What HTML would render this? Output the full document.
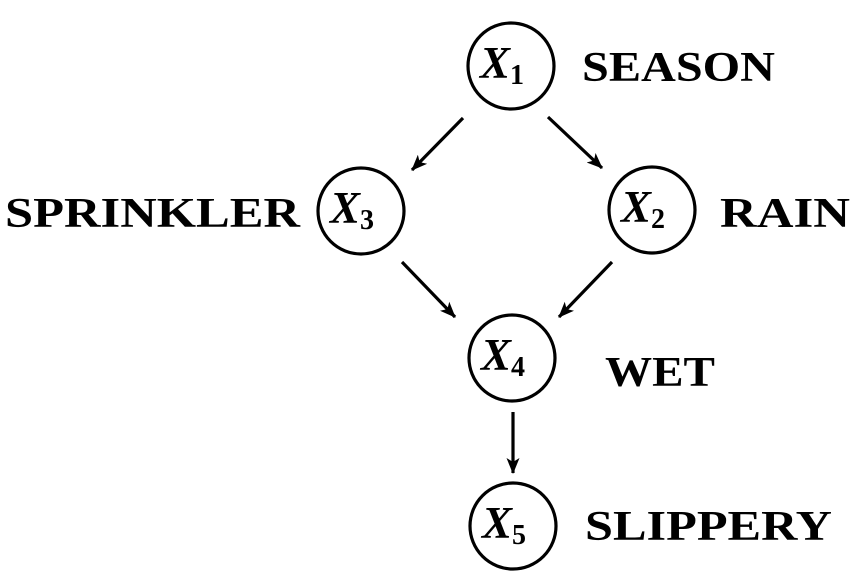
<!DOCTYPE html>
<html><head><style>body{margin:0;background:#fff}</style></head><body>
<svg width="857" height="582" xmlns="http://www.w3.org/2000/svg">
<defs><marker id="a" markerWidth="16" markerHeight="13" refX="15" refY="6.5" orient="auto" markerUnits="userSpaceOnUse"><path d="M0,0 L16,6.5 L0,13 L4,6.5z" fill="#000"/></marker></defs>
<g fill="none" stroke="#000" stroke-width="3.2">
<circle cx="511" cy="66" r="43"/>
<circle cx="361" cy="211" r="43"/>
<circle cx="652" cy="210" r="43"/>
<circle cx="512" cy="358" r="43"/>
<circle cx="513" cy="526" r="43"/>
</g>
<g stroke="#000" stroke-width="3.2" marker-end="url(#a)">
<line x1="463" y1="118" x2="412" y2="170"/>
<line x1="548" y1="117" x2="602" y2="168"/>
<line x1="402" y1="262" x2="455" y2="317"/>
<line x1="612" y1="262" x2="559" y2="317"/>
<line x1="513" y1="412" x2="513" y2="473"/>
</g>
<g font-family="Liberation Serif, serif" font-weight="bold" font-style="italic" font-size="45">
<text x="480" y="78">X<tspan font-size="28" font-style="normal" dy="6">1</tspan></text>
<text x="330" y="223">X<tspan font-size="28" font-style="normal" dy="6">3</tspan></text>
<text x="621" y="222">X<tspan font-size="28" font-style="normal" dy="6">2</tspan></text>
<text x="481" y="370">X<tspan font-size="28" font-style="normal" dy="6">4</tspan></text>
<text x="482" y="538">X<tspan font-size="28" font-style="normal" dy="6">5</tspan></text>
</g>
<g font-family="Liberation Serif, serif" font-weight="bold" font-size="42">
<text x="582" y="81" textLength="193" lengthAdjust="spacingAndGlyphs">SEASON</text>
<text x="5" y="227" textLength="295" lengthAdjust="spacingAndGlyphs">SPRINKLER</text>
<text x="720" y="227" textLength="130" lengthAdjust="spacingAndGlyphs">RAIN</text>
<text x="605" y="386" textLength="110" lengthAdjust="spacingAndGlyphs">WET</text>
<text x="585" y="540" textLength="247" lengthAdjust="spacingAndGlyphs">SLIPPERY</text>
</g>
</svg>
</body></html>
